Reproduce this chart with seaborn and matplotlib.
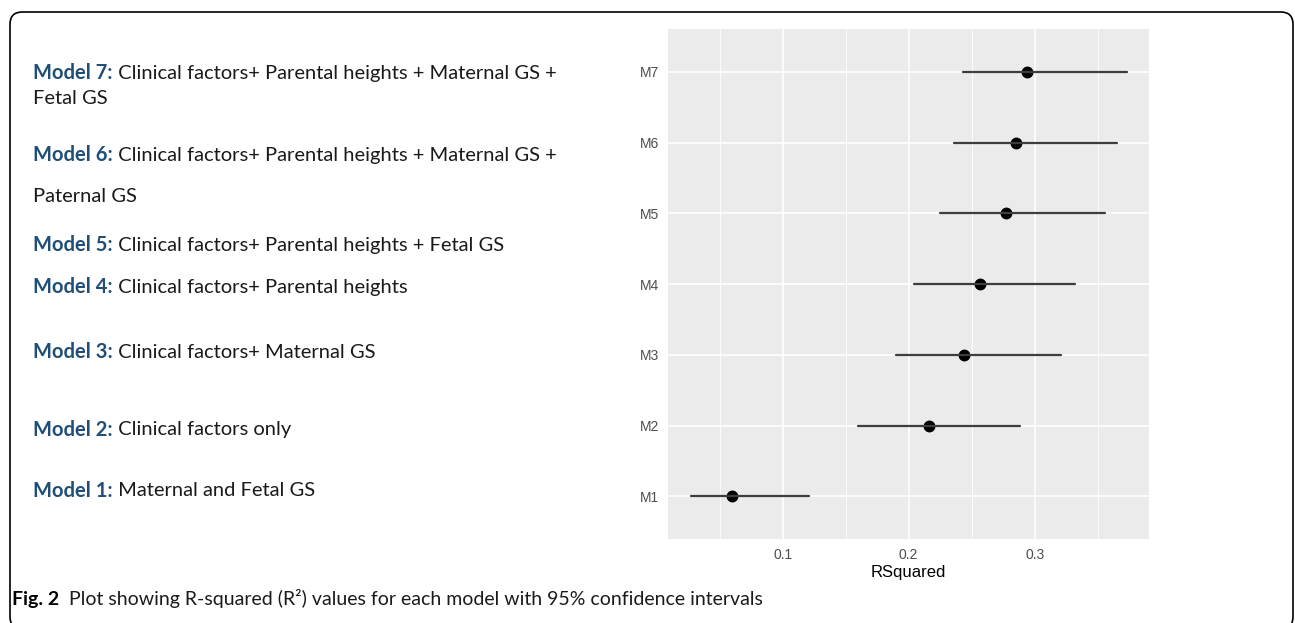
import pandas as pd
import matplotlib.pyplot as plt
import seaborn as sns
from matplotlib.patches import FancyBboxPatch
from matplotlib.ticker import MultipleLocator

# R-squared per model with 95% CI
models = ['M1', 'M2', 'M3', 'M4', 'M5', 'M6', 'M7']
rsq = [0.060, 0.216, 0.244, 0.257, 0.277, 0.285, 0.294]
ci_low = [0.027, 0.160, 0.190, 0.204, 0.225, 0.236, 0.243]
ci_high = [0.121, 0.288, 0.321, 0.332, 0.356, 0.365, 0.373]

# left hand legend text (bold part, rest)
label_heads = ['Model 7:', '', 'Model 6:', '', 'Model 5:', 'Model 4:',
               'Model 3:', 'Model 2:', 'Model 1:']
label_tails = [' Clinical factors+ Parental heights + Maternal GS +', 'Fetal GS',
               ' Clinical factors+ Parental heights + Maternal GS +', 'Paternal GS',
               ' Clinical factors+ Parental heights + Fetal GS',
               ' Clinical factors+ Parental heights',
               ' Clinical factors+ Maternal GS',
               ' Clinical factors only',
               ' Maternal and Fetal GS']
label_y = [73, 99, 155, 196, 245, 287, 352, 430, 491]

caption_head = 'Fig. 2'
caption_text = '  Plot showing R-squared (R\u00b2) values for each model with 95% confidence intervals'

#long format so seaborn draws point = median, bar = full range
rows = []
for m, lo, mid, hi in zip(models, ci_low, rsq, ci_high):
    for v in (lo, mid, hi):
        rows.append({'model': m, 'RSquared': v})
df = pd.DataFrame(rows)

sns.set_theme(style='darkgrid')
plt.rcParams['font.family'] = ['Liberation Sans', 'DejaVu Sans']

W, H = 1295, 623
fig = plt.figure(figsize=(W / 100, H / 100), dpi=100)
fig.patch.set_facecolor('white')

ax = fig.add_axes([668 / W, 1 - 538.7 / H, 481.3 / W, 509.4 / H])
ax.set_facecolor('#EBEBEB')

sns.pointplot(data=df, x='RSquared', y='model', order=models[::-1],
              estimator='median', errorbar=('pi', 100),
              color='black', linestyle='none', markersize=6.5,
              err_kws={'color': '#3d3d3d', 'linewidth': 1.6}, ax=ax)

ax.set_xlim(0.009, 0.391)
ax.set_ylim(6.6, -0.6)
ax.xaxis.set_minor_locator(MultipleLocator(0.05))
ax.set_xticks([0.1, 0.2, 0.3])
ax.set_xticklabels(['0.1', '0.2', '0.3'])
ax.grid(which='major', color='white', linewidth=1.2)
ax.grid(which='minor', axis='x', color='white', linewidth=0.6)
ax.set_axisbelow(True)
for s in ax.spines.values():
    s.set_visible(False)
ax.tick_params(axis='both', which='major', length=3.5, width=0.9, color='#333333',
               labelcolor='#4D4D4D', labelsize=10, pad=3)
ax.tick_params(axis='x', which='minor', length=0)
ax.set_xlabel('RSquared', fontsize=12, color='black', labelpad=2)
ax.set_ylabel('')

# text labels on the left
lab_font = ['Lato', 'DejaVu Sans']
fig.canvas.draw()
rend = fig.canvas.get_renderer()
for head, tail, y in zip(label_heads, label_tails, label_y):
    yy = 1 - y / H
    x0 = 33 / W
    if head:
        t = fig.text(x0, yy, head, fontsize=14.5, fontweight='bold', color='#1F4E79',
                     family=lab_font, va='center')
        bb = t.get_window_extent(renderer=rend)
        x0 = bb.x1 / W
    fig.text(x0, yy, tail, fontsize=14.5, color='#1a1a1a', family=lab_font, va='center')

# caption
t = fig.text(12 / W, 1 - 599 / H, caption_head, fontsize=14, fontweight='bold',
             color='black', family=lab_font, va='center')
bb = t.get_window_extent(renderer=rend)
fig.text(bb.x1 / W, 1 - 599 / H, caption_text, fontsize=14, color='#1a1a1a',
         family=lab_font, va='center')

# frame around the figure, open at the bottom
frame = FancyBboxPatch((10 / W, -6 / H), 1283 / W, (623 - 12 + 6) / H,
                       boxstyle='round,pad=0,rounding_size=0.0095',
                       mutation_aspect=W / H, transform=fig.transFigure,
                       facecolor='none', edgecolor='black', linewidth=1.2)
fig.patches.append(frame)

fig.savefig('out.png', dpi=100)
